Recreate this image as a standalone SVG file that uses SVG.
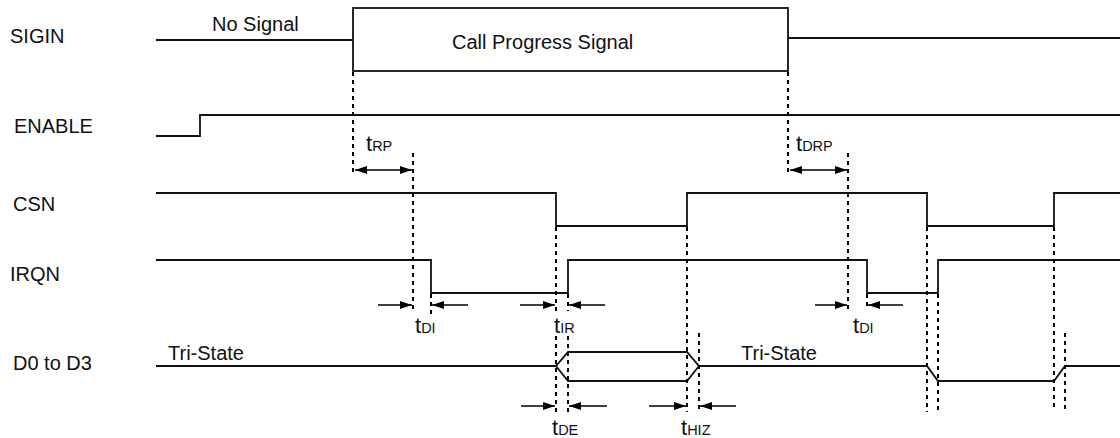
<svg xmlns="http://www.w3.org/2000/svg" width="1120" height="438" viewBox="0 0 1120 438">
<style>
text{font-family:"Liberation Sans",Arial,sans-serif;fill:#111}
.lbl{font-size:20px}
.t{font-size:22px}
.sub{font-size:14.5px}
.w{fill:none;stroke:#111;stroke-width:1.8}
.d{fill:none;stroke:#000;stroke-width:2;stroke-dasharray:4 4}
.a{fill:none;stroke:#000;stroke-width:1.5}
</style>
<defs>
<marker id="ah" viewBox="0 0 12 8" refX="12" refY="4" markerWidth="12" markerHeight="8" markerUnits="userSpaceOnUse" orient="auto-start-reverse">
<path d="M0,0 L12,4 L0,8 z" fill="#000"/>
</marker>
</defs>
<rect width="1120" height="438" fill="#fff"/>

<g id="sigin">
<text class="lbl" x="10" y="43">SIGIN</text>
<text class="lbl" x="212" y="31">No Signal</text>
<path class="w" d="M156,40 H353"/>
<rect class="w" x="353" y="8" width="435" height="63"/>
<text class="lbl" x="452" y="49">Call Progress Signal</text>
<path class="w" d="M788,38 H1120"/>
</g>

<g id="enable">
<text class="lbl" x="14" y="133">ENABLE</text>
<path class="w" d="M156,136 H200 V115 H1120"/>
</g>

<g id="csn">
<text class="lbl" x="13" y="211">CSN</text>
<path class="w" d="M156,193 H556 V226 H687 V193 H927 V226 H1054 V193 H1120"/>
</g>

<g id="irqn">
<text class="lbl" x="10" y="281">IRQN</text>
<path class="w" d="M156,260 H431 V293 H568 V260 H867 V293 H938 V260 H1120"/>
</g>

<g id="data">
<text class="lbl" x="13" y="370">D0 to D3</text>
<text class="lbl" x="168" y="360">Tri-State</text>
<text class="lbl" x="741" y="360">Tri-State</text>
<path class="w" d="M156,366 H556 L568,352 H687 L699,366 H927 L938,381 H1054 L1065,366 H1120"/>
<path class="w" d="M556,366 L568,381 H687 L699,366"/>
</g>

<g id="connectors">
<path class="d" d="M353,72 V176"/>
<path class="d" d="M413,153 V310"/>
<path class="d" d="M431,294 V314"/>
<path class="d" d="M556,227 V311 M556,336 V416"/>
<path class="d" d="M568,294 V311 M568,336 V416"/>
<path class="d" d="M687,227 V412"/>
<path class="d" d="M699,333 V412"/>
<path class="d" d="M788,72 V176"/>
<path class="d" d="M848,153 V310"/>
<path class="d" d="M867,294 V310"/>
<path class="d" d="M927,227 V412"/>
<path class="d" d="M938,294 V410"/>
<path class="d" d="M1054,227 V410"/>
<path class="d" d="M1065,333 V410"/>

<path class="a" d="M355,170 H412" marker-start="url(#ah)" marker-end="url(#ah)"/>
<path class="a" d="M790,170 H847" marker-start="url(#ah)" marker-end="url(#ah)"/>

<path class="a" d="M378,305 H412" marker-end="url(#ah)"/>
<path class="a" d="M468,305 H432" marker-end="url(#ah)"/>
<path class="a" d="M520,305 H555" marker-end="url(#ah)"/>
<path class="a" d="M605,305 H569" marker-end="url(#ah)"/>
<path class="a" d="M815,305 H847" marker-end="url(#ah)"/>
<path class="a" d="M903,305 H868" marker-end="url(#ah)"/>
<path class="a" d="M521,406 H555" marker-end="url(#ah)"/>
<path class="a" d="M607,406 H569" marker-end="url(#ah)"/>
<path class="a" d="M649,406 H686" marker-end="url(#ah)"/>
<path class="a" d="M736,406 H700" marker-end="url(#ah)"/>

<text class="t" x="366" y="151">t<tspan class="sub">RP</tspan></text>
<text class="t" x="796" y="151">t<tspan class="sub">DRP</tspan></text>
<text class="t" x="415" y="333">t<tspan class="sub">DI</tspan></text>
<text class="t" x="554" y="333">t<tspan class="sub">IR</tspan></text>
<text class="t" x="853" y="333">t<tspan class="sub">DI</tspan></text>
<text class="t" x="552" y="435">t<tspan class="sub">DE</tspan></text>
<text class="t" x="681" y="435">t<tspan class="sub">HIZ</tspan></text>
</g>
</svg>
